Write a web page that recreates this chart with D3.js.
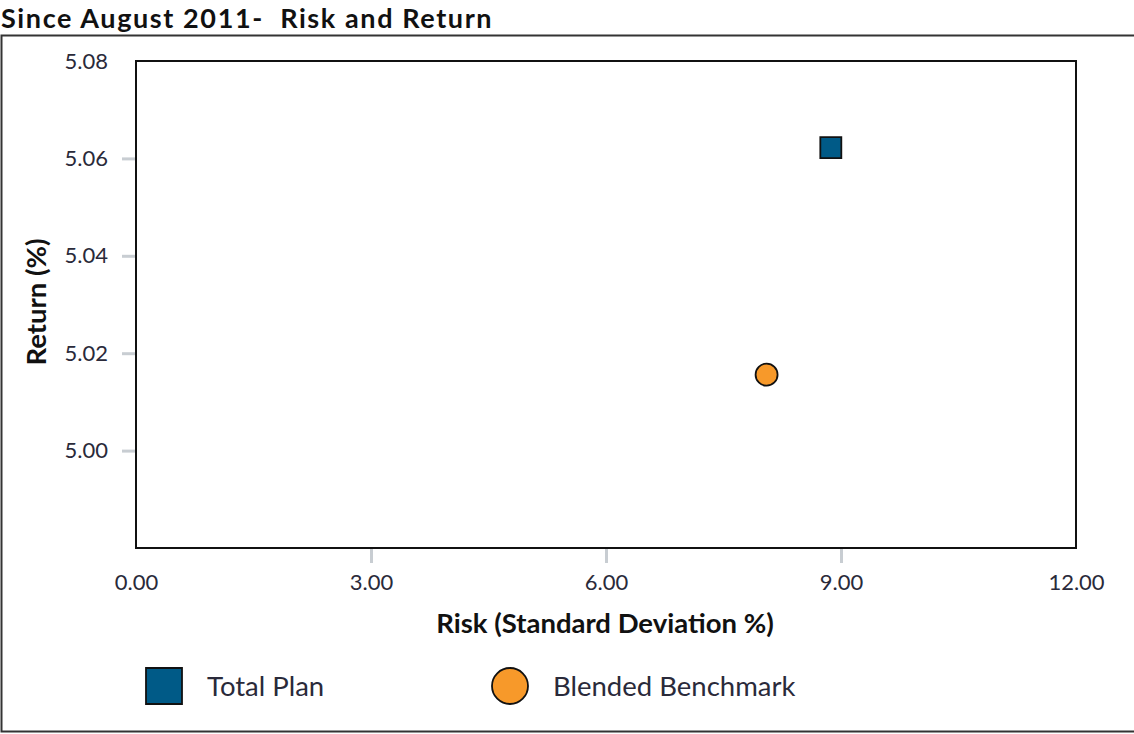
<!DOCTYPE html>
<html>
<head>
<meta charset="utf-8">
<script src="https://cdn.jsdelivr.net/npm/d3@7"></script>
<style>
  html, body { margin: 0; padding: 0; background: #fff; }
  svg { display: block; }
  svg text { font-family: Lato, "Open Sans", "DejaVu Sans", sans-serif; white-space: pre; }
</style>
</head>
<body>
<svg id="chart" width="1134" height="734"></svg>
<script>
// Risk / return points
const seriesNames = ["Total Plan", "Blended Benchmark"];
const riskValues = [8.87, 8.05];
const returnValues = [5.0622, 5.0156];
const seriesColors = ["#005a87", "#f7992a"];
const seriesShapes = ["square", "circle"];

// Axis ticks
const xTicks = [0, 3, 6, 9, 12];
const yTicks = [5.00, 5.02, 5.04, 5.06, 5.08];
const xDomain = [0, 12];
const yDomain = [4.98, 5.08];

const svg = d3.select("#chart");
const plot = { left: 136, right: 1076, top: 61, bottom: 548 };

// Outer frame
svg.append("rect")
  .attr("x", 1.5).attr("y", 35.5)
  .attr("width", 1140).attr("height", 696)
  .attr("fill", "none").attr("stroke", "#333").attr("stroke-width", 2);

// Title
svg.append("text")
  .attr("x", 1).attr("y", 27.5)
  .style("font-size", "27px").style("font-weight", "bold").style("letter-spacing", "1.6px")
  .attr("fill", "#111")
  .text("Since August 2011-  Risk and Return");

const x = d3.scaleLinear().domain(xDomain).range([plot.left, plot.right]);
const y = d3.scaleLinear().domain(yDomain).range([plot.bottom, plot.top]);

// X axis
const xAxis = svg.append("g")
  .attr("transform", `translate(0,${plot.bottom})`)
  .call(d3.axisBottom(x).tickValues(xTicks).tickFormat(d3.format(".2f")).tickSize(15).tickPadding(11));
xAxis.select(".domain").remove();
xAxis.selectAll(".tick line").attr("stroke", "#c8cdd2").attr("stroke-width", 3)
  .filter(d => d === 0 || d === 12).remove();
xAxis.selectAll(".tick text").style("font-size", "22px").attr("fill", "#2a2a3a");

// Y axis
const yAxis = svg.append("g")
  .attr("transform", `translate(${plot.left},0)`)
  .call(d3.axisLeft(y).tickValues(yTicks).tickFormat(d3.format(".2f")).tickSize(14).tickPadding(14));
yAxis.select(".domain").remove();
yAxis.selectAll(".tick line").attr("stroke", "#c8cdd2").attr("stroke-width", 3)
  .filter(d => d === 5.08).remove();
yAxis.selectAll(".tick text").style("font-size", "22px").attr("fill", "#2a2a3a");

// Plot border
svg.append("rect")
  .attr("x", plot.left).attr("y", plot.top)
  .attr("width", plot.right - plot.left).attr("height", plot.bottom - plot.top)
  .attr("fill", "none").attr("stroke", "#111").attr("stroke-width", 2);

// Axis titles
svg.append("text")
  .attr("x", 605).attr("y", 633)
  .attr("text-anchor", "middle").style("font-size", "27.5px").style("font-weight", "bold").attr("fill", "#111")
  .text("Risk (Standard Deviation %)");
svg.append("text")
  .attr("transform", `translate(46,302) rotate(-90)`)
  .attr("text-anchor", "middle").style("font-size", "27.5px").style("font-weight", "bold").attr("fill", "#111")
  .text("Return (%)");

// Points
const pts = seriesNames.map((n, i) => ({ name: n, risk: riskValues[i], ret: returnValues[i], color: seriesColors[i], shape: seriesShapes[i] }));
const markSize = 21;
svg.append("g").selectAll("path").data(pts).join("path")
  .attr("transform", d => `translate(${x(d.risk)},${y(d.ret)})`)
  .attr("d", d => d.shape === "square"
    ? d3.symbol(d3.symbolSquare, markSize * markSize)()
    : d3.symbol(d3.symbolCircle, Math.PI * 11 * 11)())
  .attr("fill", d => d.color)
  .attr("stroke", "#111").attr("stroke-width", 1.8);

// Legend
const legendX = [164, 510];
const legend = svg.append("g").selectAll("g").data(pts).join("g")
  .attr("transform", (d, i) => `translate(${legendX[i]},686)`);
legend.append("path")
  .attr("d", d => d.shape === "square"
    ? d3.symbol(d3.symbolSquare, 36 * 36)()
    : d3.symbol(d3.symbolCircle, Math.PI * 18 * 18)())
  .attr("fill", d => d.color).attr("stroke", "#111").attr("stroke-width", 1.8);
legend.append("text")
  .attr("x", 43).attr("y", 10)
  .style("font-size", "27.5px").attr("fill", "#2a2a3a")
  .text(d => d.name);
</script>
</body>
</html>
